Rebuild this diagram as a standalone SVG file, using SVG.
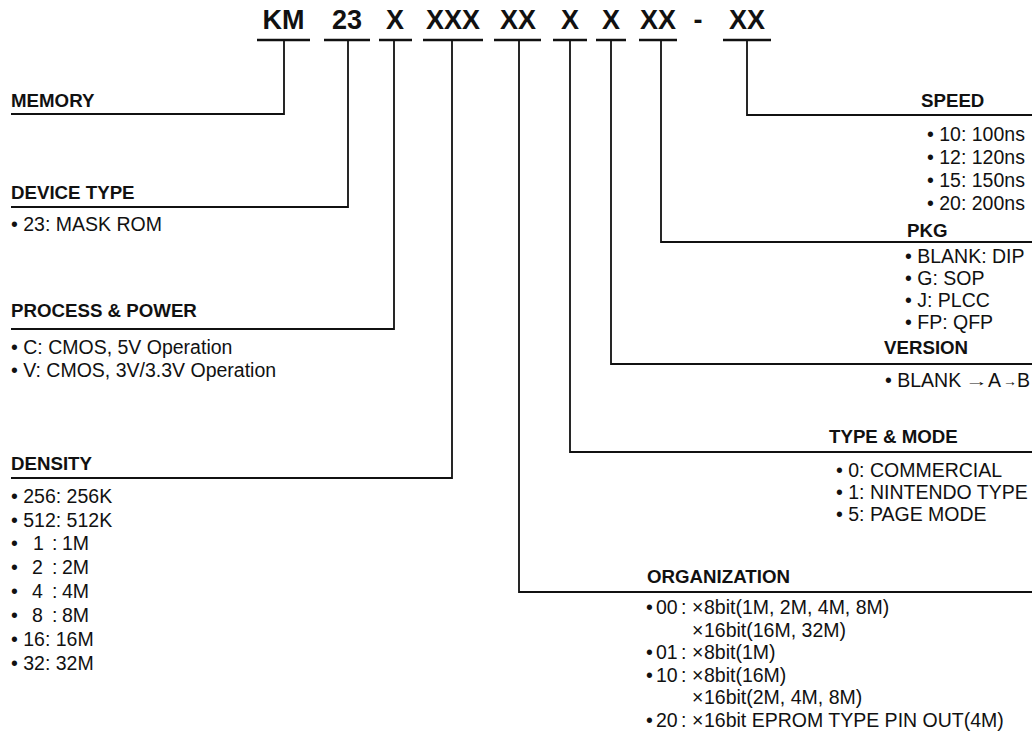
<svg xmlns="http://www.w3.org/2000/svg" width="1032" height="739" viewBox="0 0 1032 739">
<style>
.bg{fill:#fff}
.code{font-family:"Liberation Sans",Arial,sans-serif;font-weight:bold;font-size:27px;fill:#111;text-anchor:middle}
.h{font-family:"Liberation Sans",Arial,sans-serif;font-weight:bold;font-size:18.7px;fill:#111}
.t{font-family:"Liberation Sans",Arial,sans-serif;font-size:19.5px;fill:#111}
.ar{font-family:"Liberation Sans","DejaVu Sans",sans-serif;font-size:14px;fill:#111}
.ul{stroke:#111;stroke-width:2.5;fill:none}
.ln{stroke:#111;stroke-width:1.8;fill:none}
</style>
<rect class="bg" x="0" y="0" width="1032" height="739"/>
<g id="code">
<text class="code" x="283.5" y="29">KM</text>
<text class="code" x="347" y="29">23</text>
<text class="code" x="395" y="29">X</text>
<text class="code" x="453" y="29">XXX</text>
<text class="code" x="518" y="29">XX</text>
<text class="code" x="570" y="29">X</text>
<text class="code" x="611" y="29">X</text>
<text class="code" x="658" y="29">XX</text>
<text class="code" x="698" y="29">-</text>
<text class="code" x="747" y="29">XX</text>
<path class="ul" d="M257 40H310M324 40H370M379 40H412M423 40H483M494 40H541M553 40H587M596 40H626M639 40H677M723 40H771"/>
</g>
<g id="connectors">
<path class="ln" d="M284 40V114H11"/>
<path class="ln" d="M348 40V207H11"/>
<path class="ln" d="M394 40V329H11"/>
<path class="ln" d="M452 40V478H11"/>
<path class="ln" d="M519 40V592H1032"/>
<path class="ln" d="M570 40V452H1032"/>
<path class="ln" d="M611 40V364H1032"/>
<path class="ln" d="M661 40V242H1032"/>
<path class="ln" d="M747 40V115H1032"/>
</g>
<g id="memory"><text class="h" x="11" y="107">MEMORY</text></g>
<g id="device-type">
<text class="h" x="11" y="199">DEVICE TYPE</text>
<text class="t" x="11" y="231">• 23: MASK ROM</text>
</g>
<g id="process-power">
<text class="h" x="11" y="317">PROCESS &amp; POWER</text>
<text class="t" x="11" y="354">• C: CMOS, 5V Operation</text>
<text class="t" x="11" y="377">• V: CMOS, 3V/3.3V Operation</text>
</g>
<g id="density">
<text class="h" x="11" y="470">DENSITY</text>
<text class="t" x="11" y="503">• 256: 256K</text>
<text class="t" x="11" y="527">• 512: 512K</text>
<text class="t" x="11" y="550">•<tspan x="33">1</tspan><tspan x="52">:</tspan><tspan x="62">1M</tspan></text>
<text class="t" x="11" y="574">•<tspan x="32">2</tspan><tspan x="52">:</tspan><tspan x="62">2M</tspan></text>
<text class="t" x="11" y="598">•<tspan x="32">4</tspan><tspan x="52">:</tspan><tspan x="62">4M</tspan></text>
<text class="t" x="11" y="622">•<tspan x="32">8</tspan><tspan x="52">:</tspan><tspan x="62">8M</tspan></text>
<text class="t" x="11" y="646">• 16: 16M</text>
<text class="t" x="11" y="670">• 32: 32M</text>
</g>
<g id="speed">
<text class="h" x="921" y="107">SPEED</text>
<text class="t" x="927" y="141">• 10: 100ns</text>
<text class="t" x="927" y="164">• 12: 120ns</text>
<text class="t" x="927" y="187">• 15: 150ns</text>
<text class="t" x="927" y="210">• 20: 200ns</text>
</g>
<g id="pkg">
<text class="h" x="907" y="237">PKG</text>
<text class="t" x="905" y="263">• BLANK: DIP</text>
<text class="t" x="905" y="285">• G: SOP</text>
<text class="t" x="905" y="307">• J: PLCC</text>
<text class="t" x="905" y="329">• FP: QFP</text>
</g>
<g id="version">
<text class="h" x="884" y="354">VERSION</text>
<text class="t" x="885" y="387">• BLANK</text>
<text class="ar" x="965" y="386" textLength="23" lengthAdjust="spacingAndGlyphs">→</text>
<text class="t" x="988" y="387">A</text>
<text class="ar" x="1003" y="386" textLength="14" lengthAdjust="spacingAndGlyphs">→</text>
<text class="t" x="1017" y="387">B</text>
</g>
<g id="type-mode">
<text class="h" x="829" y="443">TYPE &amp; MODE</text>
<text class="t" x="836" y="477">• 0: COMMERCIAL</text>
<text class="t" x="836" y="499">• 1: NINTENDO TYPE</text>
<text class="t" x="836" y="521">• 5: PAGE MODE</text>
</g>
<g id="organization">
<text class="h" x="647" y="583">ORGANIZATION</text>
<text class="t" x="646" y="614">•<tspan x="656">00</tspan><tspan x="681">:</tspan><tspan x="692">×</tspan><tspan x="704">8bit(1M, 2M, 4M, 8M)</tspan></text>
<text class="t" x="692" y="637">×<tspan x="704">16bit(16M, 32M)</tspan></text>
<text class="t" x="646" y="659">•<tspan x="656">01</tspan><tspan x="681">:</tspan><tspan x="692">×</tspan><tspan x="704">8bit(1M)</tspan></text>
<text class="t" x="646" y="682">•<tspan x="656">10</tspan><tspan x="681">:</tspan><tspan x="692">×</tspan><tspan x="704">8bit(16M)</tspan></text>
<text class="t" x="692" y="704">×<tspan x="704">16bit(2M, 4M, 8M)</tspan></text>
<text class="t" x="646" y="727">•<tspan x="656">20</tspan><tspan x="681">:</tspan><tspan x="692">×</tspan><tspan x="704">16bit EPROM TYPE PIN OUT(4M)</tspan></text>
</g>
</svg>
